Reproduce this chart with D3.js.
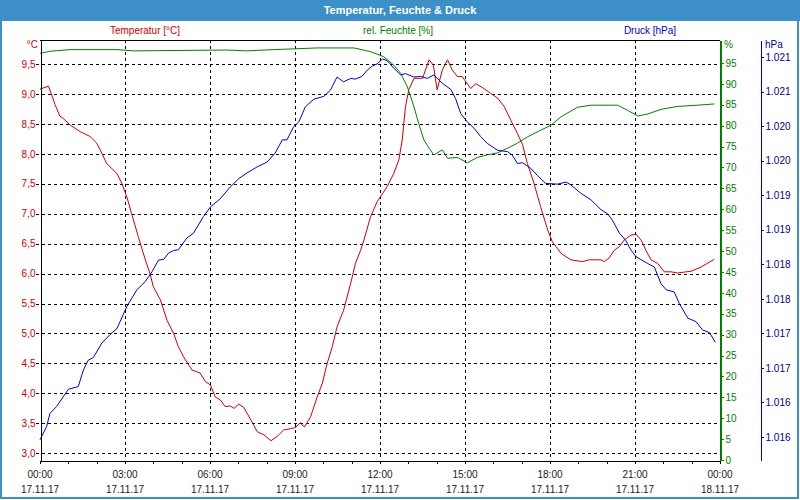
<!DOCTYPE html>
<html><head><meta charset="utf-8">
<script src="https://cdn.jsdelivr.net/npm/d3@7/dist/d3.min.js"></script>
<style>
body{margin:0;background:#fff}
svg text{font-family:"Liberation Sans",Arial,sans-serif}
</style>
</head><body>
<svg id="c" width="800" height="500"></svg>
<script>
// ---- data (minutes since 17.11.17 00:00) ----
const tempMinutes = [0,18,32,42,49,64,85,106,120,131,141,163,173,184,194,208,223,233,240,255,269,283,293,304,322,339,350,361,371,382,392,403,411,421,431,445,460,474,489,502,516,530,541,551,560,573,587,598,608,619,629,643,658,668,679,686,700,714,735,749,760,767,774,781,792,810,824,833,841,852,863,873,884,894,912,923,940,954,969,983,997,1011,1022,1032,1046,1060,1075,1085,1096,1103,1124,1149,1163,1188,1195,1205,1216,1227,1237,1251,1262,1273,1283,1294,1308,1322,1336,1350,1379,1400,1428];
const tempValues = [9.08,9.13,8.82,8.63,8.59,8.48,8.37,8.29,8.18,8.01,7.84,7.67,7.51,7.28,7.0,6.62,6.23,6.0,5.78,5.56,5.22,5.0,4.78,4.61,4.39,4.34,4.2,4.14,3.94,3.89,3.78,3.79,3.75,3.82,3.77,3.58,3.36,3.31,3.21,3.28,3.39,3.41,3.43,3.51,3.44,3.61,3.94,4.17,4.5,4.78,5.11,5.39,5.84,6.17,6.39,6.56,6.95,7.2,7.45,7.67,7.9,8.23,8.79,9.07,9.26,9.26,9.57,9.48,9.07,9.4,9.57,9.4,9.29,9.29,9.09,9.17,9.09,9.01,8.93,8.79,8.56,8.34,8.15,7.84,7.51,7.12,6.73,6.53,6.42,6.34,6.23,6.2,6.23,6.23,6.2,6.26,6.39,6.45,6.56,6.64,6.66,6.56,6.39,6.23,6.17,6.03,6.03,6.01,6.04,6.11,6.24];

const humMinutes = [0,21,64,163,198,396,438,495,587,665,700,728,749,764,778,792,802,813,824,834,852,863,884,905,926,947,969,990,1011,1032,1060,1082,1103,1138,1167,1223,1244,1266,1287,1315,1350,1393,1428];
const humValues = [97.3,97.8,98.2,98.2,97.9,98.1,97.9,98.2,98.6,98.6,97.7,96.5,94.5,92.5,89.3,84.5,80.5,76.6,74.6,73.0,74.2,72.2,72.4,71.1,72.4,73.0,73.5,74.6,75.8,77.3,78.9,80.1,82.1,84.4,84.9,84.9,83.7,82.3,82.8,83.9,84.6,84.9,85.2];

const presMinutes = [0,14,21,35,49,60,81,92,102,113,131,148,163,184,205,223,237,251,262,272,283,293,311,325,346,361,382,403,421,438,460,481,498,513,523,537,548,562,580,601,615,629,643,658,668,682,693,704,714,725,735,749,764,774,792,806,820,834,852,870,880,891,905,919,933,947,969,990,1000,1011,1022,1039,1054,1071,1096,1114,1124,1145,1167,1188,1202,1212,1227,1240,1251,1262,1287,1301,1315,1326,1343,1354,1372,1389,1403,1418,1430];
const presValues = [1015.76,1015.95,1016.14,1016.24,1016.38,1016.49,1016.53,1016.77,1016.91,1016.95,1017.16,1017.28,1017.37,1017.69,1017.93,1018.05,1018.19,1018.36,1018.37,1018.46,1018.50,1018.51,1018.68,1018.75,1018.99,1019.13,1019.25,1019.42,1019.54,1019.62,1019.71,1019.78,1019.91,1020.10,1020.10,1020.29,1020.36,1020.58,1020.69,1020.73,1020.82,1021.01,1020.94,1020.99,1020.98,1021.02,1021.11,1021.17,1021.20,1021.27,1021.25,1021.14,1021.04,1021.06,1021.01,1021.02,1020.99,1021.04,1020.92,1020.83,1020.70,1020.48,1020.36,1020.27,1020.15,1020.05,1019.95,1019.93,1019.88,1019.76,1019.77,1019.69,1019.58,1019.47,1019.46,1019.49,1019.45,1019.33,1019.23,1019.09,1019.03,1018.94,1018.75,1018.65,1018.51,1018.41,1018.31,1018.26,1018.02,1017.93,1017.90,1017.73,1017.52,1017.47,1017.35,1017.31,1017.17];

const tempTicks = [3.0,3.5,4.0,4.5,5.0,5.5,6.0,6.5,7.0,7.5,8.0,8.5,9.0,9.5];
const humTicks = [0,5,10,15,20,25,30,35,40,45,50,55,60,65,70,75,80,85,90,95];
const presTicks = [1015.8,1016.3,1016.8,1017.3,1017.8,1018.3,1018.8,1019.3,1019.8,1020.3,1020.8,1021.3];

const title = "Temperatur, Feuchte & Druck";
const seriesNames = ["Temperatur [°C]", "rel. Feuchte [%]", "Druck [hPa]"];
const unitLabels = ["°C", "%", "hPa"];

// ---- setup ----
const de = d3.formatLocale({decimal:",", thousands:".", grouping:[3], currency:["","€"]});
const fmtT = de.format(".1f");
const fmtP = de.format(",.0f");
const base = new Date(2017,10,17,0,0);
const toDate = m => new Date(base.getTime() + m*60000);

const L=40, R=720, T=40, B=460;
const cRed="#cc0000", cGreen="#008000", cBlue="#0000cc";

const x = d3.scaleTime().domain([base, toDate(1440)]).range([L,R]);
const yT = d3.scaleLinear().domain([2.888, 9.9]).range([B,T]);
const yH = d3.scaleLinear().domain([0, 100.5]).range([B,T]);
const yP = d3.scaleLinear().domain([1015.467, 1021.546]).range([B,T]);

const svg = d3.select("#c");
svg.append("rect").attr("x",0).attr("y",0).attr("width",800).attr("height",500).attr("fill","#fff");

// title bar + frame
svg.append("rect").attr("x",0).attr("y",0).attr("width",800).attr("height",21).attr("fill","#3d8fc7");
svg.append("rect").attr("x",1).attr("y",1).attr("width",797).attr("height",497)
  .attr("fill","none").attr("stroke","#3d8fc7").attr("stroke-width",2);
svg.append("text").attr("x",400).attr("y",14).attr("text-anchor","middle")
  .attr("fill","#fff").attr("font-weight","bold").attr("font-size",11).text(title);

// legend labels
const legX=[145,398,650], legC=[cRed,cGreen,cBlue];
seriesNames.forEach((n,i)=>svg.append("text").attr("x",legX[i]).attr("y",34)
  .attr("text-anchor","middle").attr("font-size",10).attr("fill",legC[i]).text(n));

// grid
const grid = svg.append("g").attr("stroke","#000").attr("stroke-dasharray","3,3").attr("shape-rendering","crispEdges");
tempTicks.forEach(v=>grid.append("line").attr("x1",L-4).attr("x2",R).attr("y1",Math.round(yT(v))+0.5).attr("y2",Math.round(yT(v))+0.5));
d3.timeHour.every(3).range(toDate(180), toDate(1440)).forEach(d=>
  grid.append("line").attr("x1",Math.round(x(d))+0.5).attr("x2",Math.round(x(d))+0.5).attr("y1",T).attr("y2",B));

// lines
function drawLine(ms, vs, y, col){
  const pts = ms.map((m,i)=>[toDate(m), vs[i]]);
  svg.append("path").datum(pts)
    .attr("d", d3.line().x(d=>x(d[0])).y(d=>y(d[1])))
    .attr("fill","none").attr("stroke",col).attr("stroke-width",1);
}
drawLine(tempMinutes,tempValues,yT,cRed);
drawLine(humMinutes,humValues,yH,cGreen);
drawLine(presMinutes,presValues,yP,cBlue);

// frame lines
const fr = svg.append("g").attr("shape-rendering","crispEdges");
fr.append("line").attr("x1",L).attr("x2",R).attr("y1",T+0.5).attr("y2",T+0.5).attr("stroke","#000");
// left axis
const axL = svg.append("g").attr("transform",`translate(${L+0.5},0)`)
  .call(d3.axisLeft(yT).tickValues(tempTicks).tickSize(0).tickPadding(5).tickFormat(fmtT).tickSizeOuter(0));
axL.select(".domain").attr("stroke","#000").attr("shape-rendering","crispEdges");
axL.selectAll("text").attr("fill",cRed).attr("font-size",10).attr("font-family",null);
svg.append("text").attr("x",38).attr("y",48).attr("text-anchor","end").attr("font-size",10).attr("fill",cRed).text(unitLabels[0]);

// bottom axis
const axB = svg.append("g").attr("transform",`translate(0,${B+0.5})`)
  .call(d3.axisBottom(x).ticks(d3.timeHour.every(1)).tickSize(3).tickSizeOuter(0).tickFormat(""));
axB.select(".domain").attr("stroke","#000");
axB.selectAll("line").attr("stroke","#000");
axB.attr("shape-rendering","crispEdges");
const xl = svg.append("g").attr("font-size",10).attr("fill","#222").attr("text-anchor","middle");
d3.timeHour.every(3).range(base, toDate(1441)).forEach(d=>{
  xl.append("text").attr("x",x(d)).attr("y",478).text(d3.timeFormat("%H:%M")(d));
  xl.append("text").attr("x",x(d)).attr("y",493).text(d3.timeFormat("%d.%m.%y")(d));
});

// right green axis
const axG = svg.append("g").attr("transform",`translate(${R+0.5},0)`)
  .call(d3.axisRight(yH).tickValues(humTicks).tickSize(3).tickPadding(2).tickSizeOuter(0));
axG.attr("shape-rendering","crispEdges");
axG.select(".domain").attr("stroke",cGreen).attr("stroke-width",1.5);
axG.selectAll(".tick line").attr("stroke",cGreen);
axG.selectAll("text").attr("fill",cGreen).attr("font-size",10).attr("font-family",null);
svg.append("text").attr("x",724).attr("y",48).attr("font-size",10).attr("fill",cGreen).text(unitLabels[1]);

// blue axis
const axP = svg.append("g").attr("transform",`translate(760.5,0)`)
  .call(d3.axisRight(yP).tickValues(presTicks).tickSize(3).tickPadding(2).tickSizeOuter(0).tickFormat(fmtP));
axP.attr("shape-rendering","crispEdges");
axP.select(".domain").attr("stroke",cBlue);
axP.selectAll(".tick line").attr("stroke",cBlue);
axP.selectAll("text").attr("fill","#00008b").attr("font-size",10).attr("font-family",null);
svg.append("text").attr("x",765).attr("y",48).attr("font-size",10).attr("fill","#00008b").text(unitLabels[2]);
</script>
</body></html>
